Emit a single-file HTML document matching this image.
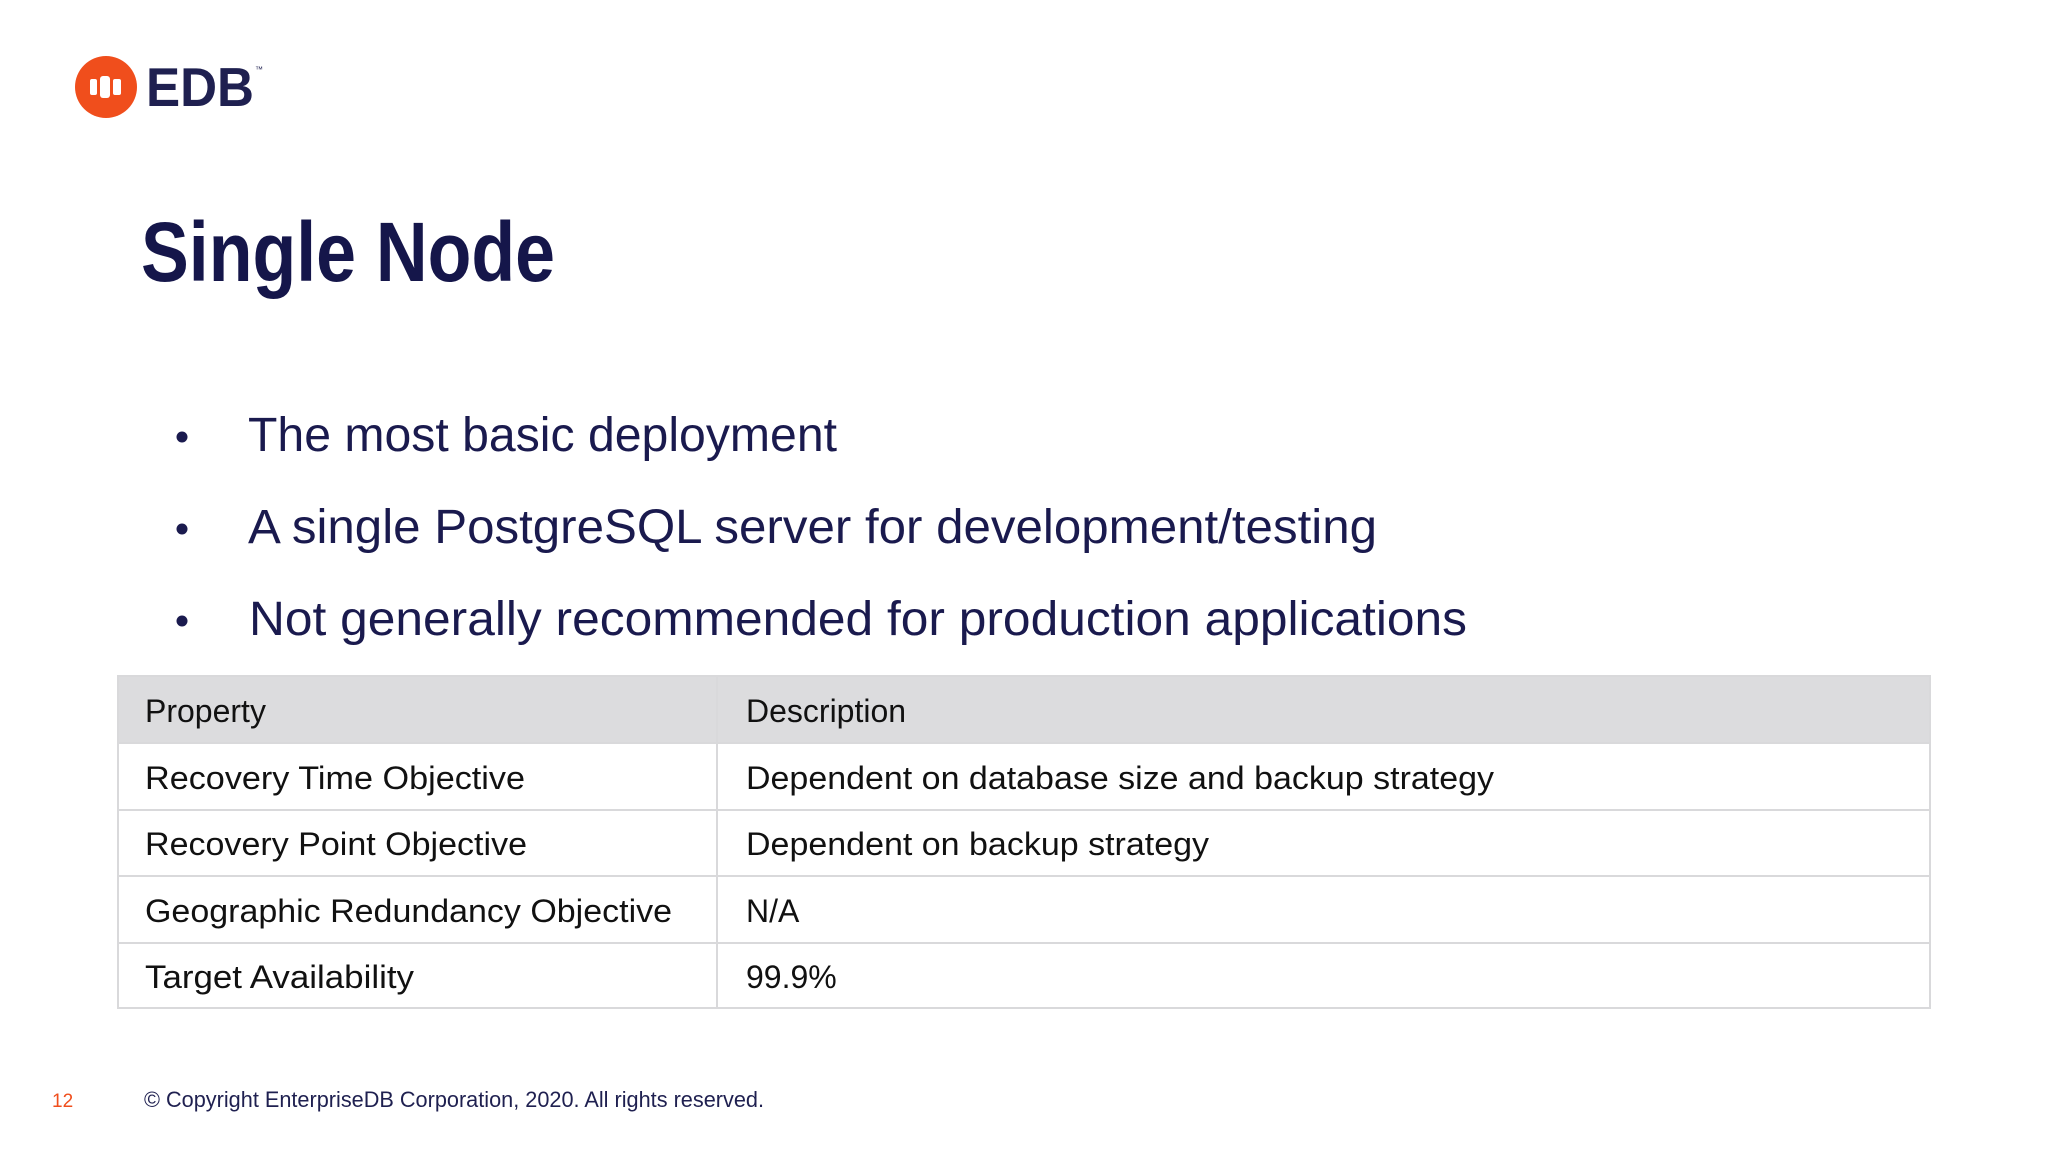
<!DOCTYPE html>
<html><head><meta charset="utf-8"><style>
html,body{margin:0;padding:0;background:#fff;}
svg{display:block;}
</style></head><body>
<svg width="2048" height="1152" viewBox="0 0 2048 1152" xmlns="http://www.w3.org/2000/svg">
<rect width="2048" height="1152" fill="#ffffff"/>
<g>
  <circle cx="106" cy="87" r="31" fill="#f04e1c"/>
  <rect x="90" y="79" width="7" height="16" rx="2" fill="#fff"/>
  <rect x="100" y="76" width="10" height="22" rx="3" fill="#fff"/>
  <rect x="113" y="79" width="8" height="16" rx="2" fill="#fff"/>
  <text x="146" y="106" font-family="Liberation Sans, sans-serif" font-weight="bold" font-size="55" fill="#1f2050" textLength="108" lengthAdjust="spacingAndGlyphs">EDB</text>
  <text x="255" y="72" font-family="Liberation Sans, sans-serif" font-size="8" fill="#1f2050">™</text>
</g>
<text x="141" y="281" font-family="Liberation Sans, sans-serif" font-weight="bold" font-size="84" fill="#15164a" textLength="414" lengthAdjust="spacingAndGlyphs">Single Node</text>
<g font-family="Liberation Sans, sans-serif" font-size="48" fill="#1a1a4e">
  <circle cx="182" cy="437" r="5.5" fill="#1a1a4e"/>
  <text x="248" y="451" textLength="589" lengthAdjust="spacingAndGlyphs">The most basic deployment</text>
  <circle cx="182" cy="529" r="5.5" fill="#1a1a4e"/>
  <text x="248" y="543" textLength="1129" lengthAdjust="spacingAndGlyphs">A single PostgreSQL server for development/testing</text>
  <circle cx="182" cy="621" r="5.5" fill="#1a1a4e"/>
  <text x="249" y="635" textLength="1218" lengthAdjust="spacingAndGlyphs">Not generally recommended for production applications</text>
</g>
<g font-family="Liberation Sans, Arial, sans-serif" font-size="32" fill="#111">
  <rect x="118" y="676" width="1812" height="67" fill="#dcdcde"/>
  <g stroke="#d9d9db" stroke-width="2" fill="none">
    <rect x="118" y="676" width="1812" height="332"/>
    <line x1="118" y1="743" x2="1930" y2="743"/>
    <line x1="118" y1="810" x2="1930" y2="810"/>
    <line x1="118" y1="876" x2="1930" y2="876"/>
    <line x1="118" y1="943" x2="1930" y2="943"/>
    <line x1="717" y1="676" x2="717" y2="1008"/>
  </g>
  <text x="145" y="722">Property</text>
  <text x="746" y="722">Description</text>
  <text x="145" y="789" textLength="380" lengthAdjust="spacingAndGlyphs">Recovery Time Objective</text>
  <text x="746" y="789" textLength="748" lengthAdjust="spacingAndGlyphs">Dependent on database size and backup strategy</text>
  <text x="145" y="855" textLength="382" lengthAdjust="spacingAndGlyphs">Recovery Point Objective</text>
  <text x="746" y="855" textLength="463" lengthAdjust="spacingAndGlyphs">Dependent on backup strategy</text>
  <text x="145" y="922" textLength="527" lengthAdjust="spacingAndGlyphs">Geographic Redundancy Objective</text>
  <text x="746" y="922">N/A</text>
  <text x="145" y="988" textLength="269" lengthAdjust="spacingAndGlyphs">Target Availability</text>
  <text x="746" y="988">99.9%</text>
</g>
<text x="52" y="1107" font-family="Liberation Sans, sans-serif" font-size="19" fill="#f04e1c">12</text>
<text x="144" y="1107" font-family="Liberation Sans, sans-serif" font-size="22" fill="#1f2050" textLength="620" lengthAdjust="spacingAndGlyphs">© Copyright EnterpriseDB Corporation, 2020. All rights reserved.</text>
</svg>
</body></html>
